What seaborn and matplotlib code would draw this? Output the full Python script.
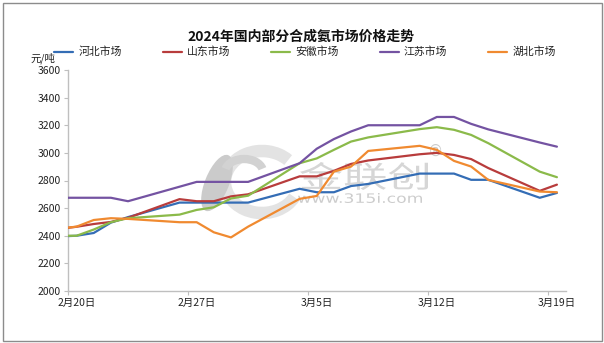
import matplotlib
matplotlib.use("Agg")
import matplotlib.pyplot as plt
import matplotlib.dates as mdates
from matplotlib.patches import Rectangle, Ellipse, Arc, PathPatch
from matplotlib.textpath import TextPath
from matplotlib.font_manager import FontProperties
from matplotlib.transforms import Affine2D
import pandas as pd
import seaborn as sns

# ---- data (元/吨) ----
dates = ["2024-02-19", "2024-02-20", "2024-02-21", "2024-02-22", "2024-02-23",
         "2024-02-26", "2024-02-27", "2024-02-28", "2024-02-29", "2024-03-01",
         "2024-03-04", "2024-03-05", "2024-03-06", "2024-03-07", "2024-03-08",
         "2024-03-11", "2024-03-12", "2024-03-13", "2024-03-14", "2024-03-15",
         "2024-03-18", "2024-03-19"]
markets = ["河北市场", "山东市场", "安徽市场", "江苏市场", "湖北市场"]
hebei = [2395, 2400, 2420, 2495, 2535, 2640, 2640, 2640, 2640, 2640, 2740,
         2715, 2715, 2760, 2775, 2850, 2850, 2850, 2805, 2805, 2675, 2710]
shandong = [2450, 2465, 2485, 2500, 2530, 2665, 2650, 2650, 2685, 2700, 2830,
            2830, 2870, 2920, 2945, 2990, 3000, 2985, 2955, 2890, 2725, 2770]
anhui = [2400, 2400, 2445, 2498, 2527, 2553, 2587, 2606, 2670, 2690, 2925,
         2960, 3022, 3082, 3112, 3172, 3186, 3167, 3130, 3070, 2864, 2824]
jiangsu = [2675, 2675, 2675, 2675, 2650, 2755, 2790, 2790, 2790, 2790, 2925,
           3030, 3100, 3155, 3200, 3200, 3260, 3260, 3210, 3170, 3075, 3045]
hubei = [2452, 2466, 2514, 2527, 2522, 2498, 2498, 2425, 2388, 2466, 2667,
         2688, 2864, 2901, 3014, 3051, 3022, 2942, 2901, 2804, 2720, 2715]
tick_dates = ["2024-02-20", "2024-02-27", "2024-03-05", "2024-03-12", "2024-03-19"]
tick_labels = ["2月20日", "2月27日", "3月5日", "3月12日", "3月19日"]
y_ticks = list(range(2000, 3601, 200))
colors = ["#346DB5", "#B83C3C", "#8BBA4A", "#7453A2", "#F08A30"]

sns.set_theme(style="ticks")
plt.rcParams["font.family"] = ["Noto Sans CJK SC", "DejaVu Sans"]

W, H = 604, 343
fig = plt.figure(figsize=(W / 100, H / 100), dpi=100)
fig.patch.set_facecolor("white")
ax = fig.add_axes([68 / W, 1 - 291 / H, (565.5 - 68) / W, (291 - 70) / H])
ax.set_facecolor("white")

wide = pd.DataFrame({"日期": pd.to_datetime(dates), markets[0]: hebei,
                     markets[1]: shandong, markets[2]: anhui,
                     markets[3]: jiangsu, markets[4]: hubei})
long = wide.melt(id_vars="日期", var_name="市场", value_name="价格")
sns.lineplot(data=long, x="日期", y="价格", hue="市场", hue_order=markets,
             palette=colors, linewidth=1.6, ax=ax, legend=False, zorder=3)

# date axis: one slot per day, labels in the middle of the slot
tick_nums = mdates.date2num(pd.to_datetime(tick_dates))
ax.set_xlim(tick_nums[0] - 0.5, tick_nums[-1] + 0.5)
ax.set_xticks(tick_nums, tick_labels)
ax.set_xticks(tick_nums - 0.5, minor=True)
ax.tick_params(axis="x", which="major", length=0, pad=5, labelsize=7.5,
               labelcolor="#222222")
ax.tick_params(axis="x", which="minor", length=3, width=0.8, color="#bfbfbf",
               direction="out")
ax.set_ylim(2000, 3600)
ax.set_yticks(y_ticks)
ax.tick_params(axis="y", length=3, width=0.8, color="#bfbfbf", pad=2,
               labelsize=7.5, labelcolor="#222222")
ax.set_xlabel("")
ax.set_ylabel("")
for side in ("top", "right"):
    ax.spines[side].set_visible(False)
for side in ("left", "bottom"):
    ax.spines[side].set_color("#bfbfbf")
    ax.spines[side].set_linewidth(1.0)

# pixel-space transform (origin top-left) for decoration
pix = Affine2D().scale(1, -1).translate(0, H)


def stretched_text(s, x, y, width, height, color, family):
    """Draw s as a filled path fitted into a width x height pixel box."""
    tp = TextPath((0, 0), s, size=10, prop=FontProperties(family=family))
    bb = tp.get_extents()
    t = (Affine2D().translate(-bb.x0, -bb.y0)
         .scale(width / bb.width, height / bb.height)
         .translate(x, H - y - height))
    ax.add_patch(PathPatch(t.transform_path(tp), facecolor=color,
                           edgecolor="none", transform=Affine2D(),
                           zorder=0.6, clip_on=False))


# watermark behind the lines
ax.add_patch(Arc((262, 182), 74, 62, theta1=25, theta2=320, transform=pix,
                 color="#e3e3e3", lw=9, zorder=0.4, clip_on=False))
ax.add_patch(Ellipse((217, 183), 24, 60, angle=22, transform=pix,
                     facecolor="#cbcbcb", edgecolor="none", zorder=0.5,
                     clip_on=False))
ax.add_patch(Arc((244, 172), 38, 26, theta1=190, theta2=350, transform=pix,
                 color="#d2d2d2", lw=6, zorder=0.5, clip_on=False))
stretched_text("金联创", 300, 162, 128, 28, "#d6d6d6", "Noto Sans CJK SC")
stretched_text("www.315i.com", 298, 193, 124, 10, "#cdcdcd", "DejaVu Sans")
ax.text(436, 151, "®", transform=pix, fontsize=11, color="#cccccc",
        ha="center", va="center", zorder=0.6, family=["DejaVu Sans"],
        clip_on=False)

# title, unit and legend
fig.text(301 / W, 1 - 37 / H, "2024年国内部分合成氨市场价格走势",
         ha="center", va="center", fontsize=10, fontweight="bold",
         color="#111111")
fig.text(30 / W, 1 - 58 / H, "元/吨", ha="left", va="center", fontsize=7.5,
         color="#222222")
fig.legend(handles=ax.lines[:5], labels=markets, loc="center",
           bbox_to_anchor=(305 / W, 1 - 52 / H), ncol=5, frameon=False,
           fontsize=7.8, handlelength=1.75, handletextpad=0.45,
           columnspacing=3.8, borderpad=0, labelcolor="#222222")

# outer frame
fig.patches.append(Rectangle((2.5, 2.5), W - 5, H - 5, transform=pix,
                             fill=False, edgecolor="#8c8c8c", lw=1.0))

fig.savefig("out.png", dpi=100)
